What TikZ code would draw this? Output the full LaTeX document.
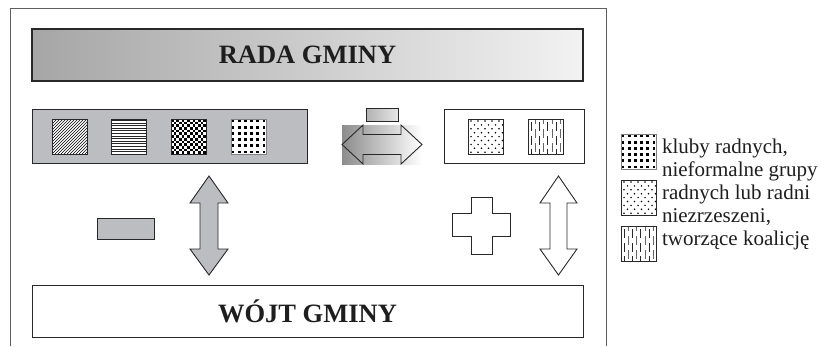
\documentclass[tikz,border=0pt]{standalone}
\usepackage{fontspec}
\setmainfont{Liberation Serif}
\definecolor{boxgray}{RGB}{188,189,192}
\definecolor{edge}{RGB}{40,40,40}
\definecolor{framegray}{RGB}{95,95,95}
\definecolor{inkgray}{RGB}{30,30,30}
\tikzset{
  every node/.style={inner sep=0pt, outer sep=0pt},
  box/.style={draw=edge, line width=1pt, anchor=north west},
  title/.style={font=\fontsize{26.5}{30}\selectfont\bfseries, text=inkgray},
  legend/.style={font=\fontsize{21}{24}\selectfont, text=inkgray, anchor=base west},
  blockarrow/.style={draw=edge, line width=0.9pt},
  tileedge/.style={draw=edge, line width=0.7pt},
  % 35 x 35 tiles, drawn with y pointing down
  diaglines/.pic={
    \fill[white] (0,0) rectangle (35,35);
    \begin{scope}
      \clip (0,0) rectangle (35,35);
      \foreach \k in {-12,...,12}
        \draw[line width=0.5pt] (3*\k,35) -- (3*\k+35,0);
    \end{scope}
    \draw[tileedge] (0,0) rectangle (35,35);
  },
  hlines/.pic={
    \fill[white] (0,0) rectangle (35,35);
    \foreach \j in {0,...,13}
      \draw[line width=0.42pt, black!85] (0,1.3+2.6*\j) -- (35,1.3+2.6*\j);
    \draw[tileedge] (0,0) rectangle (35,35);
  },
  checker/.pic={
    \fill[white] (0,0) rectangle (35,35);
    \foreach \i in {0,...,12}
      \foreach \j in {0,...,12}{
        \pgfmathparse{int(mod(\i+\j,2))}
        \ifnum\pgfmathresult=0
          \fill (35/13*\i,35/13*\j) rectangle ++(35/13,35/13);
        \fi
      }
    \draw[tileedge] (0,0) rectangle (35,35);
  },
  dotgrid/.pic={
    \fill[white] (0,0) rectangle (35,35);
    \draw[gray, line width=0.4pt] (0,0) rectangle (35,35);
    \foreach \i in {0,...,5}
      \foreach \j in {0,...,5}
        \fill (2+6.2*\i-1.4,2+6.2*\j-1.4) rectangle ++(2.8,2.8);
  },
  sparsedots/.pic={
    \fill[white] (0,0) rectangle (35,35);
    \foreach \j in {0,...,8}
      \foreach \i in {0,...,4}{
        \pgfmathsetmacro{\dx}{mod(\j,2)*3.5}
        \fill (3+7*\i+\dx,2+3.9*\j) circle (0.85);
      }
    \draw[tileedge] (0,0) rectangle (35,35);
  },
  vdashes/.pic={
    \fill[white] (0,0) rectangle (35,35);
    \foreach \i in {0,2,4,6}{
      \draw[line width=1pt, edge] (3+4.2*\i,3) -- ++(0,9);
      \draw[line width=1pt, edge] (3+4.2*\i,17) -- ++(0,9);
      \draw[line width=1pt, edge] (3+4.2*\i,30) -- ++(0,5);
    }
    \foreach \i in {1,3,5,7}{
      \draw[line width=1pt, black!60] (3+4.2*\i,0) -- ++(0,5);
      \draw[line width=1pt, black!60] (3+4.2*\i,10) -- ++(0,9);
      \draw[line width=1pt, black!60] (3+4.2*\i,24) -- ++(0,9);
    }
    \draw[tileedge] (0,0) rectangle (35,35);
  }
}
\begin{document}
\begin{tikzpicture}[x=1pt, y=-1pt, line join=miter]
\useasboundingbox (0,0) rectangle (821,346);

% outer frame, open at the bottom
\draw[framegray, line width=1pt] (10,346) -- (10,8) -- (606,8) -- (606,346);

% council
\node[box, line width=1.2pt, minimum width=551pt, minimum height=52pt,
      left color=black!35, middle color=black!19, right color=black!5, title]
      (rada) at (32,29) {RADA GMINY};

% council groups
\node[box, fill=boxgray, minimum width=275pt, minimum height=54pt] (groups) at (32,109) {};
\pic at (52,119) {diaglines};
\pic at (111,119) {hlines};
\pic at (171,119) {checker};
\pic at (231,119) {dotgrid};

% independent councillors
\node[box, fill=white, minimum width=140pt, minimum height=54pt] (coalition) at (444,109) {};
\pic at (468,119) {sparsedots};
\pic at (528,119) {vdashes};

% horizontal double arrow on a shaded ground
\shade[left color=black!45, right color=white] (342,125) rectangle (422,164);
\draw[blockarrow] (342,144.5) -- (363,125) -- (363,134.5) -- (401,134.5) -- (401,125)
  -- (422,144.5) -- (401,164) -- (401,154.5) -- (363,154.5) -- (363,164) -- cycle;
\node[box, line width=0.9pt, minimum width=32pt, minimum height=13pt,
      left color=black!30, right color=black!10] (smallbar) at (366,108) {};

% minus sign and gray vertical double arrow
\node[box, line width=0.9pt, fill=boxgray, minimum width=57pt, minimum height=21pt] (minus) at (97,218) {};
\draw[blockarrow, fill=boxgray] (209,176) -- (228,203) -- (218,203) -- (218,249) -- (228,249)
  -- (209,275) -- (190,249) -- (200,249) -- (200,203) -- (190,203) -- cycle;

% plus sign and white vertical double arrow
\draw[blockarrow, fill=white] (471,197) -- (492,197) -- (492,213) -- (510,213) -- (510,236)
  -- (492,236) -- (492,254) -- (471,254) -- (471,236) -- (452,236) -- (452,213) -- (471,213) -- cycle;
\draw[blockarrow, fill=white] (558.5,176) -- (577,203) -- (567,203) -- (567,249) -- (577,249)
  -- (558.5,275) -- (540,249) -- (550,249) -- (550,203) -- (540,203) -- cycle;

% mayor
\node[box, fill=white, minimum width=551pt, minimum height=52pt, title]
      (wojt) at (32,285) {WÓJT GMINY};

% legend
\pic at (621,134) {dotgrid};
\pic at (621,180) {sparsedots};
\pic at (621,226) {vdashes};
\node[legend] (leg1) at (662,153) {kluby radnych,};
\node[legend] (leg2) at (662,176) {nieformalne grupy};
\node[legend] (leg3) at (662,199) {radnych lub radni};
\node[legend] (leg4) at (662,222) {niezrzeszeni,};
\node[legend] (leg5) at (662,245) {tworzące koalicję};
\end{tikzpicture}
\end{document}
